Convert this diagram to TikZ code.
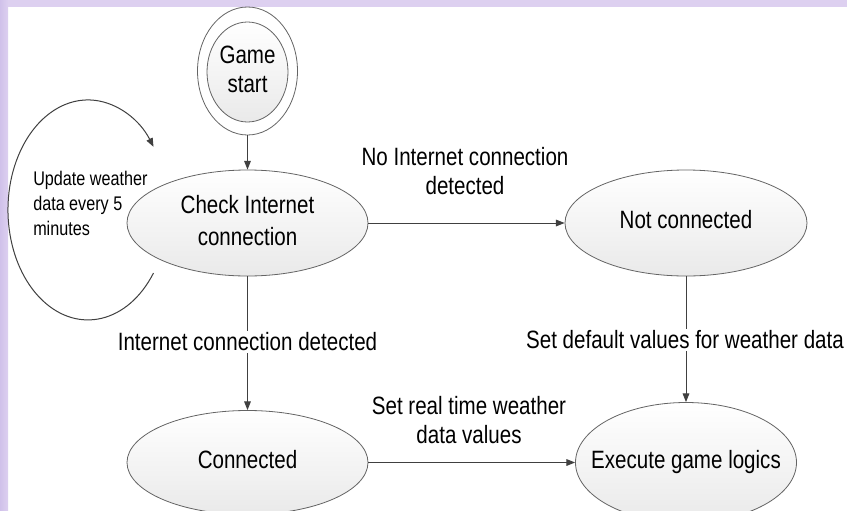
\documentclass[tikz,border=0pt]{standalone}
\usepackage{fontspec}
\setmainfont{Liberation Sans}[FakeStretch=0.82]
\usetikzlibrary{shapes.geometric,arrows.meta}

\definecolor{lav}{RGB}{221,208,240}
\definecolor{lavdark}{RGB}{208,193,234}
\definecolor{edgegray}{RGB}{64,64,64}
\definecolor{rimgray}{RGB}{100,100,100}

% centred multi-line text that does not widen its node
\newcommand{\mklines}[1]{\makebox[0pt]{\begin{tabular}{@{}c@{}}#1\end{tabular}}}

\begin{document}
\begin{tikzpicture}[x=0.75pt,y=-0.75pt,
  state/.style={ellipse, draw=rimgray, line width=0.6pt,
    top color=white, bottom color=gray!17, inner sep=0pt,
    font=\fontsize{18.8}{22}\selectfont},
  lbl/.style={inner sep=1.5pt, font=\fontsize{18.8}{22}\selectfont},
  flow/.style={draw=edgegray, line width=0.75pt,
    -{Triangle[length=6.5pt,width=5pt]}},
]
% page and lavender frame
\useasboundingbox (0,0) rectangle (847,511);
\fill[white] (0,0) rectangle (847,511);
\fill[lav] (0,0) rectangle (847,7);
\shade[left color=lavdark, right color=lav] (0,0) rectangle (8,511);

% states
\node[state, minimum width=75pt, minimum height=96pt,
      top color=white, bottom color=white] (gamestart) at (247.5,71) {};
\node[state, minimum width=60.75pt, minimum height=75pt] (gameinner) at (247.5,72)
  {\mklines{Game\\start}};
\node[state, minimum width=180.75pt, minimum height=79.5pt,
      font=\fontsize{18.8}{24}\selectfont] (check) at (247.5,223)
  {\mklines{Check Internet\\connection}};
\node[state, minimum width=181.5pt, minimum height=79.5pt] (notconn) at (686,223)
  {\mklines{Not connected}};
\node[state, minimum width=180.75pt, minimum height=78pt] (conn) at (247.5,462.5)
  {\mklines{Connected}};
\node[state, minimum width=165.75pt, minimum height=90pt] (exec) at (686,462.5)
  {\mklines{Execute game logics}};

% transitions
\draw[flow] (gamestart) -- (check);
\draw[flow] (check) -- (notconn);
\draw[flow] (check) -- (conn);
\draw[flow] (notconn) -- (exec);
\draw[flow] (conn) -- (exec);

% periodic update loop
\coordinate (loopstart) at (153.5,273);
\draw[flow] (loopstart) arc[start angle=35, end angle=325, x radius=80, y radius=110];
\node[anchor=west, inner sep=0pt, font=\fontsize{14.8}{18.75}\selectfont] (looplbl) at (33,205)
  {\begin{tabular}{@{}l@{}}Update weather\\data every 5\\minutes\end{tabular}};

% transition labels
\node[lbl] (nolbl) at (465,174) {\mklines{No Internet connection\\detected}};
\node[lbl, fill=white] (detlbl) at (247.5,342) {Internet connection detected};
\node[lbl, fill=white] (deflbl) at (685,340) {Set default values for weather data};
\node[lbl] (reallbl) at (469,423) {\mklines{Set real time weather\\data values}};
\end{tikzpicture}
\end{document}
